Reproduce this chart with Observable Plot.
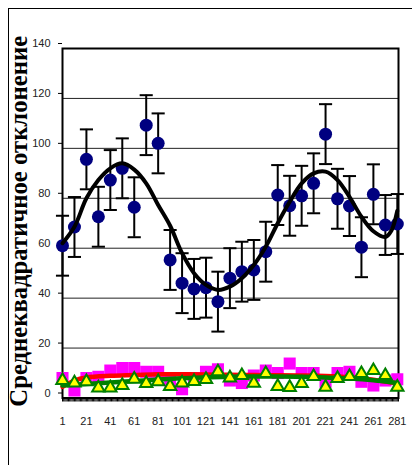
<!DOCTYPE html>
<html>
<head>
<meta charset="utf-8">
<script src="https://cdn.jsdelivr.net/npm/d3@7"></script>
<script src="https://cdn.jsdelivr.net/npm/@observablehq/plot@0.6"></script>
<style>
  html, body { margin: 0; padding: 0; background: #fff; }
  #wrap { position: relative; width: 412px; height: 465px; overflow: hidden; background: #fff; }
  #outer { position: absolute; left: 8px; top: 8px; width: 440px; height: 480px; border-left: 1px solid #000; border-top: 1px solid #000; pointer-events: none; }
  #chart { position: absolute; left: 0; top: 0; }
</style>
</head>
<body>
<div id="wrap"><div id="chart"></div><div id="outer"></div></div>
<script>
// Categories (x positions of the measured points)
const xPoints = [1,11,21,31,41,51,61,71,81,91,101,111,121,131,141,151,161,171,181,191,201,211,221,231,241,251,261,271,281];
// Blue circles (mean values) and their error half-widths
const blueValues = [61,68.5,95.6,72.6,87.3,92,76.4,109.3,102,55.3,46,43.7,44.2,38.6,48,50.6,51.3,58.6,81.3,77,81,86,105.7,79.8,76.9,60.4,81.6,69.3,69.7];
const blueErrors = [12,12,12,12,12,12,12,12,12,12,12,12,12,12,12,12,12,12,12,12,12,12,12,12,12,12,12,12,12];
// Black fitted curve
const curveX = [1,11,21,31,41,51,61,71,81,91,101,111,121,131,141,151,161,171,181,191,201,211,221,231,241,251,261,271,276,281];
const curveValues = [62,68.6,80,87.3,92,94,91.5,86,77.3,69,58,50,45.3,43.3,44.6,48,53.3,60.6,70,78.6,86,90,90.7,87.3,80.6,72.6,66.8,64.5,67,75];
// Magenta squares
const magentaValues = [8,3,8,8.5,11,12,12,10.5,10.5,7,3.5,8,10.5,11.5,7,6,9,11,10,13.8,10,10,6.5,10,10.5,6.5,5,7,7.5];
// Yellow triangles
const triangleValues = [7,6,6.5,4,4,5,7.5,5.8,6.5,4.6,6,6.6,7.4,10.5,8,9,5.9,9.8,4.6,4.2,5.8,8.6,4.3,7.8,8.6,9.8,11,9,4.3];
// Red and green trend lines
const trendX = [1,11,21,41,61,81,101,121,141,161,181,201,221,241,261,281];
const redValues = [4.5,7,8.2,8.9,9.2,9.5,9.5,9.4,9.3,9.2,9.1,9,8.8,8.3,7.3,5.8];
const greenValues = [5,5.3,5.6,6.2,6.8,7.4,7.9,8.3,8.5,8.6,8.6,8.5,8.2,7.8,7.1,6];
// Axis ticks
const yTicks = [0,20,40,60,80,100,120,140];
const xTickLabels = [1,21,41,61,81,101,121,141,161,181,201,221,241,261,281];
const xCategoryTicks = d3.range(1, 283);
const yTitle = "Среднеквадратичное отклонение";

const points = xPoints.map((x, i) => ({x, v: blueValues[i], lo: blueValues[i] - blueErrors[i], hi: blueValues[i] + blueErrors[i], m: magentaValues[i], t: triangleValues[i]}));
const curve = curveX.map((x, i) => ({x, v: curveValues[i]}));
const trends = trendX.map((x, i) => ({x, r: redValues[i], g: greenValues[i]}));

const capSymbol = { draw(context, size) { const w = Math.sqrt(size); context.moveTo(-w, 0); context.lineTo(w, 0); } };

const chart = Plot.plot({
  width: 412,
  height: 465,
  marginLeft: 62,
  marginRight: 14,
  marginTop: 48,
  marginBottom: 67.5,
  x: {domain: [1, 282]},
  y: {domain: [0, 140]},
  style: {fontFamily: "'Liberation Sans', Arial, sans-serif", fontSize: "11px", color: "#222", background: "transparent", overflow: "visible"},
  marks: [
    Plot.gridY(yTicks, {stroke: "#222", strokeOpacity: 1, strokeWidth: 1}),
    Plot.axisY(yTicks, {tickSize: 4, tickPadding: 8, dy: -5, label: null, stroke: "#000", fontSize: 11}),
    Plot.axisX({ticks: xCategoryTicks, tickSize: 4, tickFormat: () => "", label: null, stroke: "#000", strokeWidth: 1}),
    Plot.axisX(xTickLabels, {tickSize: 0, tickPadding: 19, label: null, fontSize: 11}),
    Plot.frame({stroke: "#000", strokeWidth: 2}),
    // bottom series
    Plot.dot(points, {x: "x", y: "m", symbol: "square", r: 6.8, fill: "#ff00ff", stroke: "none"}),
    Plot.line(trends, {x: "x", y: "r", stroke: "#ff0000", strokeWidth: 4.5, curve: "catmull-rom"}),
    Plot.line(trends, {x: "x", y: "g", stroke: "#008000", strokeWidth: 4.5, curve: "catmull-rom"}),
    Plot.dot(points, {x: "x", y: "t", symbol: "triangle", r: 4.6, fill: "#ffff00", stroke: "#008000", strokeWidth: 2}),
    // blue series with error bars
    Plot.ruleX(points, {x: "x", y1: "lo", y2: "hi", stroke: "#000", strokeWidth: 2}),
    Plot.dot(points, {x: "x", y: "lo", symbol: capSymbol, r: 3.7, stroke: "#000", strokeWidth: 2, fill: "none"}),
    Plot.dot(points, {x: "x", y: "hi", symbol: capSymbol, r: 3.7, stroke: "#000", strokeWidth: 2, fill: "none"}),
    Plot.dot(points, {x: "x", y: "v", r: 6.5, fill: "#000080", stroke: "none"}),
    Plot.line(curve, {x: "x", y: "v", stroke: "#000", strokeWidth: 4, curve: "catmull-rom"}),
    // y-axis title
    Plot.text([yTitle], {frameAnchor: "left", dx: -43, dy: -2, rotate: -90, fontSize: 24.7, fontWeight: "bold", fontFamily: "'Liberation Serif', 'Times New Roman', serif", fill: "#000", textAnchor: "middle", lineAnchor: "middle"})
  ]
});
document.getElementById("chart").appendChild(chart);
</script>
</body>
</html>
